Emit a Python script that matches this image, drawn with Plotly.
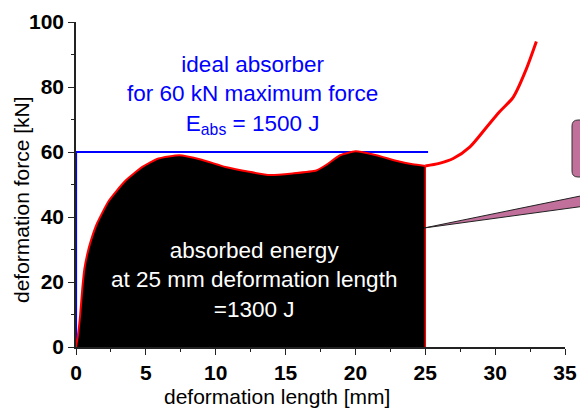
import plotly.graph_objects as go

# ---- data ----
length_mm = [0, 0.15, 0.3, 0.45, 0.6, 0.8, 1.05, 1.5, 2.35, 3.5, 4.75, 5.9, 7.4, 9.0, 10.7,
             12.4, 13.9, 15.5, 17.2, 17.9, 18.9, 20.0, 21.5, 22.9, 24.1, 25.0,
             26.0, 27.0, 28.2, 29.4, 30.3, 31.3, 32.2, 32.95]
force_kN = [0, 4, 10, 18, 24, 28.5, 32.5, 38, 45, 51, 55.4, 58, 59, 57.6, 55.4,
            53.9, 52.9, 53.4, 54.3, 56, 59, 60.2, 59, 57.3, 56.2, 55.7,
            56.5, 58, 61.6, 67.7, 72.3, 76.9, 85.2, 94]
absorbed_until_mm = 25.0
ideal_x = [0, 0, 25.2]
ideal_y = [0, 60, 60]
x_ticks = [0, 5, 10, 15, 20, 25, 30, 35]
y_ticks = [0, 20, 40, 60, 80, 100]

W, H = 580, 412
L, R, T, B = 76, 15, 22, 65
PW, PH = W - L - R, H - T - B


def xp(px):
    return (px - L) / PW


def yp(py):
    return (H - B - py) / PH


FONT = "Arial, Liberation Sans, sans-serif"

idx = length_mm.index(absorbed_until_mm)
fill_x = length_mm[:idx + 1]
fill_y = force_kN[:idx + 1]
rest_x = length_mm[idx:]
rest_y = force_kN[idx:]

fig = go.Figure()
fig.add_trace(go.Scatter(x=ideal_x, y=ideal_y, mode="lines",
                         line=dict(color="#0000ff", width=2.2), hoverinfo="skip"))
fig.add_trace(go.Scatter(x=fill_x, y=fill_y, mode="lines", fill="tozeroy",
                         fillcolor="black",
                         line=dict(color="#ff0000", width=2, shape="spline", smoothing=0.5),
                         hoverinfo="skip"))
fig.add_trace(go.Scatter(x=[absorbed_until_mm, absorbed_until_mm], y=[fill_y[-1], 0],
                         mode="lines", line=dict(color="#ff0000", width=1.5),
                         hoverinfo="skip"))
fig.add_trace(go.Scatter(x=rest_x, y=rest_y, mode="lines",
                         line=dict(color="#ff0000", width=3, shape="spline", smoothing=0.8),
                         hoverinfo="skip"))

pink = "rgb(192,112,154)"
# callout box (partly outside the figure) and its pointer
bx0, by0, by1, bx1, rr = xp(572), yp(120), yp(177), xp(620), 6
fig.add_shape(type="path", xref="paper", yref="paper",
              path=(f"M {xp(572+rr)} {by0} L {bx1} {by0} L {bx1} {by1} L {xp(572+rr)} {by1} "
                    f"Q {bx0} {by1} {bx0} {yp(177-rr)} L {bx0} {yp(120+rr)} "
                    f"Q {bx0} {by0} {xp(572+rr)} {by0} Z"),
              fillcolor=pink, line=dict(color="#333333", width=1), layer="above")
fig.add_shape(type="path", xref="paper", yref="paper",
              path=f"M {xp(424)} {yp(228)} L {xp(600)} {yp(192)} L {xp(600)} {yp(204)} Z",
              fillcolor=pink, line=dict(color="#222222", width=1), layer="above")

fig.add_annotation(xref="paper", yref="paper", x=xp(252), y=yp(95),
                   text="ideal absorber<br>for 60 kN maximum force<br>E<sub>abs</sub> = 1500 J",
                   showarrow=False, align="center", xanchor="center", yanchor="middle",
                   font=dict(family=FONT, size=22.5, color="#0000ff"))
fig.add_annotation(xref="paper", yref="paper", x=xp(254), y=yp(280),
                   text="absorbed energy<br>at 25 mm deformation length<br>=1300 J",
                   showarrow=False, align="center", xanchor="center", yanchor="middle",
                   font=dict(family=FONT, size=22.5, color="white"))
fig.add_annotation(xref="paper", yref="paper", x=xp(277), y=yp(397),
                   text="deformation length [mm]", showarrow=False,
                   xanchor="center", yanchor="middle",
                   font=dict(family=FONT, size=21, color="black"))
fig.add_annotation(xref="paper", yref="paper", x=xp(21), y=yp(200),
                   text="deformation force [kN]", showarrow=False, textangle=-90,
                   xanchor="center", yanchor="middle",
                   font=dict(family=FONT, size=21, color="black"))

axis_common = dict(showgrid=False, zeroline=False, showline=True, linecolor="#222222",
                   linewidth=1.5, ticks="outside", ticklen=6, tickwidth=1.3,
                   tickcolor="#222222", automargin=False,
                   tickfont=dict(family=FONT, size=21, color="black", weight="bold"))
fig.update_xaxes(range=[0, 35], tickvals=x_ticks, ticktext=[str(v) for v in x_ticks],
                 minor=dict(dtick=2.5, ticks="outside", ticklen=3, tickcolor="#222222"),
                 **axis_common)
fig.update_yaxes(range=[0, 100], tickvals=y_ticks, ticktext=[str(v) for v in y_ticks],
                 minor=dict(dtick=10, ticks="outside", ticklen=3, tickcolor="#222222"),
                 **axis_common)
fig.update_layout(width=W, height=H, margin=dict(l=L, r=R, t=T, b=B, autoexpand=False),
                  plot_bgcolor="white", paper_bgcolor="white", showlegend=False)

fig.write_html("out.html", config={"displayModeBar": False},
               post_script="document.body.style.margin='0';document.body.style.overflow='hidden';")
